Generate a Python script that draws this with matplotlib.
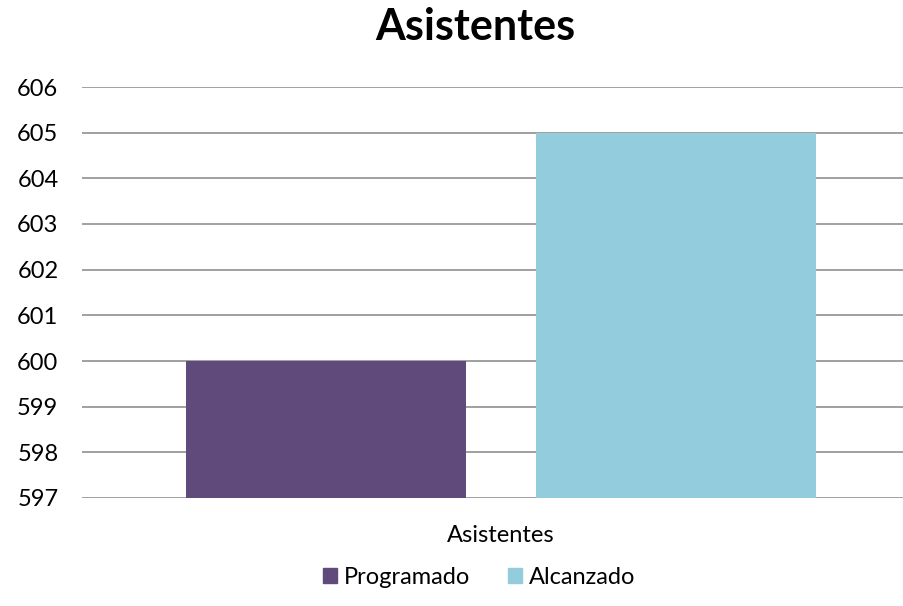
import matplotlib
matplotlib.use("Agg")
import matplotlib.pyplot as plt
from matplotlib.patches import Patch

plt.rcParams['font.family'] = ['Lato', 'DejaVu Sans']

# Datos
categoria = "Asistentes"
series = ["Programado", "Alcanzado"]
valores = [600, 605]
colores = ["#604A7B", "#93CDDD"]
ticks_y = [597, 598, 599, 600, 601, 602, 603, 604, 605, 606]

fig = plt.figure(figsize=(9.04, 6.06), dpi=100)
ax = fig.add_axes([82 / 904, 1 - 498 / 606, 822 / 904, 411 / 606])

ancho = 0.4
separacion = 0.5
for i, (nombre, v) in enumerate(zip(series, valores)):
    x = (i - 0.5) * separacion
    ax.bar(x, v - ticks_y[0], bottom=ticks_y[0], width=ancho, color=colores[i], zorder=3)

ax.set_xlim(-0.5986, 0.5757)
ax.set_ylim(ticks_y[0], ticks_y[-1])
ax.set_yticks(ticks_y)
ax.set_xticks([])
ax.yaxis.grid(True, color="#868686", linewidth=1.1, zorder=0)
for s in ax.spines.values():
    s.set_visible(False)
ax.tick_params(axis='y', length=0, pad=17, labelsize=17)

# título
fig.text(475 / 904, 1 - 27 / 606, categoria, fontsize=31, fontweight='bold',
         ha='center', va='center')

# etiqueta de categoría centrada en el grupo
ax.text((501 - 82) / 822, -37 / 411, categoria, transform=ax.transAxes,
        fontsize=17, ha='center', va='center')

handles = [Patch(color=c, label=n) for n, c in zip(series, colores)]
fig.legend(handles=handles, loc='center', bbox_to_anchor=(479 / 904, 1 - 577 / 606), ncol=2,
           frameon=False, fontsize=17, handlelength=0.6, handleheight=0.6,
           handletextpad=0.3, columnspacing=1.6)

fig.savefig("out.png", dpi=100)
